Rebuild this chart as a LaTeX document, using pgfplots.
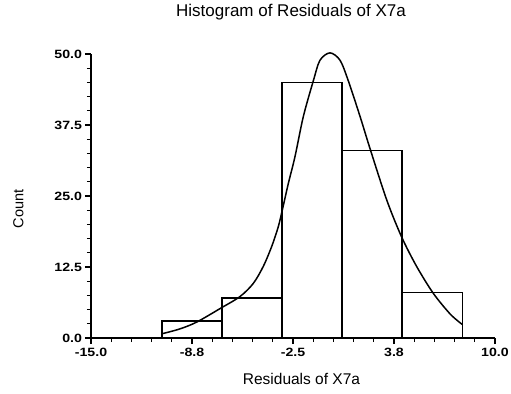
\documentclass[border=0pt]{standalone}
\usepackage{fontspec}
\setmainfont{Liberation Sans}
\usepackage{pgfplots}
\pgfplotsset{compat=1.18}
\begin{document}
\begin{tikzpicture}
\path[use as bounding box] (0,0) rectangle (511bp,394bp);
\begin{axis}[
  at={(91bp,56bp)}, anchor=south west,
  scale only axis, width=404bp, height=284bp,
  axis lines=left, axis line style={line width=1.6bp, -},
  xmin=-15, xmax=10, ymin=0, ymax=50,
  clip=false,
  xtick={-15,-8.75,-2.5,3.75,10},
  xticklabels={-15.0,-8.8,-2.5,3.8,10.0},
  ytick={0,12.5,25,37.5,50},
  yticklabels={0.0,12.5,25.0,37.5,50.0},
  minor x tick num=4, minor y tick num=4,
  tick align=outside, tick pos=left,
  major tick length=6bp, minor tick length=4bp,
  every tick/.style={line width=1.3bp, black},
  xticklabel style={font=\fontsize{12bp}{14bp}\selectfont\bfseries, xscale=1.18, yshift=-1bp},
  yticklabel style={font=\fontsize{12bp}{14bp}\selectfont\bfseries, xscale=1.18, xshift=1bp},
  title={Histogram of Residuals of X7a},
  title style={font=\fontsize{17bp}{20bp}\selectfont, at={(axis description cs:0.495,1)}, anchor=center, yshift=36bp},
  xlabel={Residuals of X7a},
  xlabel style={font=\fontsize{15.5bp}{18bp}\selectfont, at={(axis description cs:0.521,0)}, anchor=center, yshift=-41bp},
  ylabel={Count},
  ylabel style={font=\fontsize{14.5bp}{17bp}\selectfont, at={(axis description cs:-0.18,0.454)}, anchor=center},
]
\addplot[ybar interval, fill=white, draw=black, line width=1.6bp] coordinates {
  (-10.61,3) (-6.89,7) (-3.17,45) (0.55,33) (4.26,8) (7.98,8)
};
\addplot[smooth, black, line width=1.5bp, mark=none] coordinates {
  (-10.6,0.75) (-9.5,1.6) (-8.46,2.8) (-7.0,5.2) (-5.78,7.3) (-4.96,9.6)
  (-4.34,12.6) (-3.82,16.1) (-3.41,19.6) (-3.14,22.8) (-2.79,27.2)
  (-2.38,31.9) (-1.86,39.0) (-1.24,45.3) (-0.83,48.9) (-0.21,50.2)
  (0.41,48.9) (0.92,45.3) (1.65,39.0) (2.26,33.4) (3.3,24.3)
  (4.22,17.8) (5.15,12.6) (6.18,7.87) (7.2,4.3) (7.83,2.7) (7.98,2.4)
};
\end{axis}
\end{tikzpicture}
\end{document}
